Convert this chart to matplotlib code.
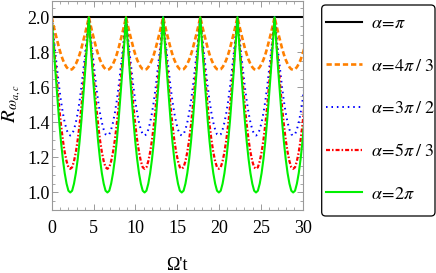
import numpy as np
import matplotlib
matplotlib.use("Agg")
import matplotlib.pyplot as plt
import matplotlib.ticker as mtick
from matplotlib.patches import FancyBboxPatch

plt.rcParams["mathtext.fontset"] = "stix"
plt.rcParams["font.family"] = ["Liberation Serif", "DejaVu Serif"]

# ---------------------------------------------------------------------------
# Data
# ---------------------------------------------------------------------------
labels = [r"$\alpha\!=\!\pi$", r"$\alpha\!=\!4\pi\;/\;3$", r"$\alpha\!=\!3\pi\;/\;2$",
          r"$\alpha\!=\!5\pi\;/\;3$", r"$\alpha\!=\!2\pi$"]
r_max = 2.0
r_min = [2.0, 1.70, 1.325, 1.135, 1.0]   # trough value of each curve
period = 4.44                              # peak-to-peak distance in Omega't
t_end = 30.0

# shape of one half period, peak (u=0) -> trough (u=1), as fraction of depth
u_half = [0.0, 0.1, 0.2, 0.3, 0.4, 0.5, 0.6, 0.7, 0.8, 0.9, 1.0]
f_half = [0.0, 0.16, 0.31, 0.45, 0.59, 0.71, 0.81, 0.89, 0.95, 0.99, 1.0]

colors = ["black", "#ff8000", "#0000ff", "#ff0000", "#00f000"]
styles = ["-", (0, (2.0, 1.1)), (0, (0.8, 2.0)), (0, (1.8, 0.9, 0.7, 0.9)), "-"]
widths = [1.5, 1.9, 1.4, 1.6, 1.5]

# ---------------------------------------------------------------------------
# one profile repeated over the time range
# ---------------------------------------------------------------------------
u = np.array(u_half)
f = np.array(f_half)
one_period_u = np.concatenate([u, 1.0 + u[1:]])
one_period_f = np.concatenate([f, f[::-1][1:]])
n_rep = int(np.ceil(t_end / period))
t_all = np.concatenate([(k + one_period_u[(k > 0):] / 2.0) * period for k in range(n_rep)])
f_all = np.concatenate([one_period_f[(k > 0):] for k in range(n_rep)])

fig = plt.figure(figsize=(4.36, 2.73), dpi=100)
ax = fig.add_axes([51.7 / 436, 63 / 273, 251 / 436, 209.5 / 273])

handles = []
for rm, c, ls, lw, lab in zip(r_min, colors, styles, widths, labels):
    vals = r_max - (r_max - rm) * f_all
    h, = ax.plot(t_all, vals, color=c, linestyle=ls, linewidth=lw, label=lab)
    handles.append(h)

ax.set_xlim(0, 30)
ax.set_ylim(0.9, 2.095)
ax.xaxis.set_major_locator(mtick.MultipleLocator(5))
ax.xaxis.set_minor_locator(mtick.MultipleLocator(1))
ax.yaxis.set_major_locator(mtick.FixedLocator([1.0, 1.2, 1.4, 1.6, 1.8, 2.0]))
ax.yaxis.set_minor_locator(mtick.MultipleLocator(0.05))
ax.yaxis.set_major_formatter(mtick.FormatStrFormatter("%.1f"))

frame_col = "#999999"
for sp in ax.spines.values():
    sp.set_color(frame_col)
    sp.set_linewidth(0.8)
ax.tick_params(which="both", direction="in", top=True, right=True,
               color=frame_col, labelsize=13, labelcolor="black")
ax.tick_params(which="major", length=4.5, width=0.7)
ax.tick_params(which="minor", length=2.5, width=0.6)
ax.tick_params(axis="x", pad=7)
ax.tick_params(axis="y", pad=1.5)

fig.text(12 / 436, 1 - 104 / 273, r"$R_{\omega_{a,c}}$", rotation=90,
         ha="center", va="center", fontsize=15)
fig.text(177 / 436, 1 - 265 / 273, "Ω't", ha="center", va="center", fontsize=13)

# legend box (rounded frame drawn separately)
box = FancyBboxPatch((3.217, 0.57), 1.133, 2.11,
                     boxstyle="round,pad=0,rounding_size=0.04",
                     transform=fig.dpi_scale_trans, facecolor="white",
                     edgecolor="black", linewidth=0.9)
fig.patches.append(box)
fig.legend(handles, labels, loc="upper left",
           bbox_to_anchor=(326 / 436, 1 - 15 / 273), frameon=False,
           fontsize=13, borderpad=0, borderaxespad=0, labelspacing=1.42,
           handlelength=2.0, handletextpad=0.5)

fig.savefig("out.png", dpi=100)
